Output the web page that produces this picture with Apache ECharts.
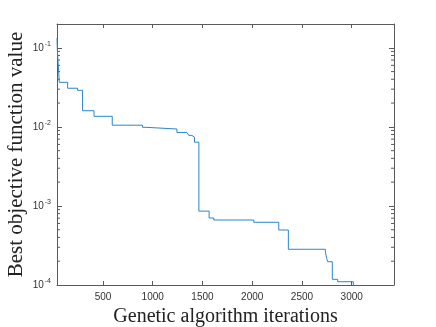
<!DOCTYPE html>
<html>
<head>
<meta charset="utf-8">
<script src="https://cdn.jsdelivr.net/npm/echarts@6/dist/echarts.min.js"></script>
<style>
  html, body { margin: 0; padding: 0; background: #fff; }
  #chart { width: 436px; height: 327px; }
</style>
</head>
<body>
<div id="chart"></div>
<script>
// 迭代次数（最优值发生变化的位置）与对应的最优目标函数值
var iterations = [38, 41, 61, 145, 245, 295, 410, 593, 898, 932, 1243, 1343, 1363, 1394, 1420, 1464, 1567, 1614, 2016, 2267, 2363, 2735, 2749, 2759, 2805, 2859, 3016];
var bestValues = [0.133, 0.096, 0.0366, 0.0308, 0.029, 0.016, 0.0136, 0.0105, 0.00987, 0.0094, 0.0085, 0.0081, 0.0078, 0.0074, 0.0064, 0.00086, 0.000704, 0.000664, 0.000621, 0.000496, 0.000283, 0.000264, 0.000215, 0.000197, 0.000118, 0.00011, 0.00009];

var xTicks = [500, 1000, 1500, 2000, 2500, 3000];
var yTicks = [1e-4, 1e-3, 1e-2, 1e-1];
var X_MIN = 38, X_MAX = 3425, Y_MIN = 1e-4, Y_MAX = 0.2;

// 对数轴的次刻度 2..9 × 10^k
var minorTicks = [];
[1e-4, 1e-3, 1e-2, 1e-1].forEach(function (d) {
  for (var m = 2; m <= 9; m++) {
    if (m * d < Y_MAX) minorTicks.push(m * d);
  }
});

var axisColor = '#5a5a5a';
var labelFont = { fontFamily: 'Liberation Sans', fontSize: 10, color: '#333' };

var myChart = echarts.init(document.getElementById('chart'));

var option = {
  animation: false,
  backgroundColor: '#fff',
  grid: { left: 57, right: 42, top: 24, bottom: 42, outerBoundsMode: 'none' },
  xAxis: [
    {
      type: 'value',
      min: X_MIN,
      max: X_MAX,
      name: 'Genetic algorithm iterations',
      nameLocation: 'middle',
      nameGap: 21,
      nameTextStyle: { fontFamily: 'Liberation Serif', fontSize: 20, color: '#222' },
      axisLine: { show: true, lineStyle: { color: axisColor, width: 1 } },
      axisTick: { show: true, inside: true, length: 4, customValues: xTicks, lineStyle: { color: axisColor } },
      axisLabel: Object.assign({
        customValues: xTicks,
        margin: 7,
        formatter: function (v) { return String(v); }
      }, labelFont),
      splitLine: { show: false }
    },
    {
      type: 'value',
      position: 'top',
      min: X_MIN,
      max: X_MAX,
      axisLine: { show: true, lineStyle: { color: axisColor, width: 1 } },
      axisTick: { show: true, inside: true, length: 4, customValues: xTicks, lineStyle: { color: axisColor } },
      axisLabel: { show: false },
      splitLine: { show: false }
    }
  ],
  yAxis: [
    {
      type: 'log',
      logBase: 10,
      min: Y_MIN,
      max: Y_MAX,
      name: 'Best objective function value',
      nameLocation: 'middle',
      nameGap: 30,
      nameMoveOverlap: false,
      nameTextStyle: { fontFamily: 'Liberation Serif', fontSize: 21, color: '#222' },
      axisLine: { show: true, lineStyle: { color: axisColor, width: 1 } },
      axisTick: { show: true, inside: true, length: 5, customValues: yTicks, lineStyle: { color: axisColor } },
      axisLabel: {
        customValues: yTicks,
        margin: 6,
        formatter: function (v) {
          var e = Math.round(Math.log(v) / Math.LN10);
          return '{b|10}{s|' + e + '}';
        },
        rich: {
          b: { fontFamily: 'Liberation Sans', fontSize: 10, color: '#333' },
          s: { fontFamily: 'Liberation Sans', fontSize: 7, color: '#333', padding: [0, 0, 7, 1] }
        }
      },
      splitLine: { show: false }
    },
    {
      type: 'log',
      logBase: 10,
      position: 'right',
      min: Y_MIN,
      max: Y_MAX,
      axisLine: { show: true, lineStyle: { color: axisColor, width: 1 } },
      axisTick: { show: true, inside: true, length: 5, customValues: yTicks, lineStyle: { color: axisColor } },
      axisLabel: { show: false },
      splitLine: { show: false }
    }
  ],
  series: [
    {
      name: 'best',
      type: 'line',
      step: 'end',
      showSymbol: false,
      clip: true,
      data: iterations.map(function (x, i) { return [x, bestValues[i]]; }),
      lineStyle: { color: '#2a86cc', width: 1 }
    },
    {
      // 左右两侧的对数次刻度
      type: 'custom',
      silent: true,
      data: minorTicks.map(function (v) { return [X_MIN, v]; }),
      renderItem: function (params, api) {
        var v = api.value(1);
        var pl = api.coord([X_MIN, v]);
        var pr = api.coord([X_MAX, v]);
        var st = { stroke: axisColor, lineWidth: 1 };
        return {
          type: 'group',
          children: [
            { type: 'line', shape: { x1: pl[0], y1: pl[1], x2: pl[0] + 3, y2: pl[1] }, style: st },
            { type: 'line', shape: { x1: pr[0], y1: pr[1], x2: pr[0] - 3, y2: pr[1] }, style: st }
          ]
        };
      }
    }
  ]
};

myChart.setOption(option);
</script>
</body>
</html>
